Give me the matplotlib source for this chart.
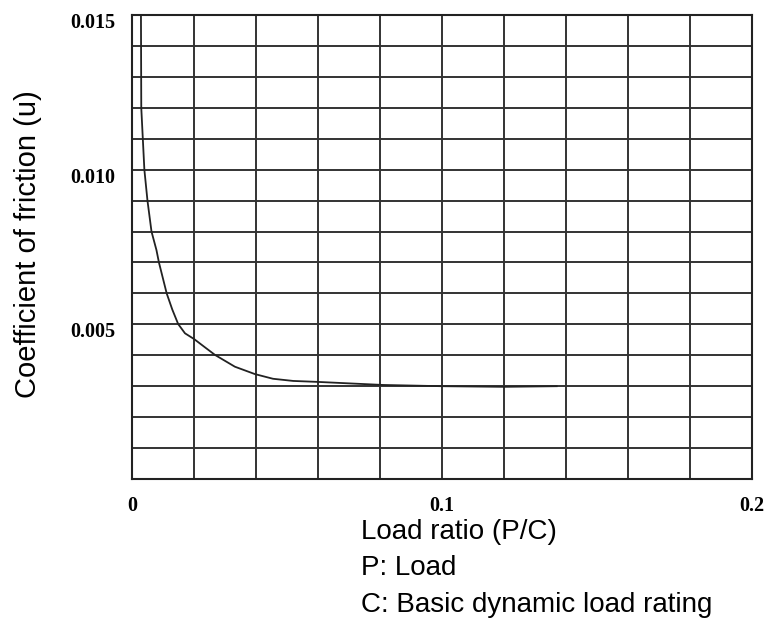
import matplotlib.pyplot as plt
import matplotlib.transforms as mtransforms

# curve (load ratio P/C, coefficient of friction)
load_ratio = [0.0029, 0.0030, 0.0035, 0.0040, 0.0050, 0.0063, 0.0079, 0.0087,
              0.0112, 0.0130, 0.0149, 0.0171, 0.0201, 0.0235, 0.0268, 0.0332,
              0.0397, 0.0455, 0.0520, 0.0597, 0.0703, 0.0810, 0.1000, 0.1200,
              0.1370]
friction = [0.0150, 0.0120, 0.0110, 0.0100, 0.0090, 0.0080, 0.0074, 0.0070,
            0.0060, 0.00548, 0.00501, 0.00471, 0.00452, 0.00426, 0.00401, 0.00363,
            0.00339, 0.00324, 0.00317, 0.00314, 0.00309, 0.00304, 0.00300, 0.00298,
            0.00300]

x_ticks = [0, 0.1, 0.2]
x_ticklabels = ['0', '0.1', '0.2']
y_ticks = [0.005, 0.010, 0.015]
y_ticklabels = ['0.005', '0.010', '0.015']

label_font = ['Liberation Sans', 'DejaVu Sans']
tick_font = {'family': 'Liberation Serif', 'weight': 'bold', 'size': 14.5}

fig = plt.figure(figsize=(7.74, 6.25), dpi=100)
ax = fig.add_axes([0.1705, 0.2336, 0.8011, 0.7424])

# grid lines every 0.02 / 0.001
for i in range(1, 10):
    ax.axvline(i * 0.02, color='#333333', lw=1.4, zorder=1)
for i in range(1, 15):
    ax.axhline(i * 0.001, color='#333333', lw=1.4, zorder=1)

ax.plot(load_ratio, friction, color='#222222', lw=1.3, zorder=2)

ax.set_xlim(0, 0.2)
ax.set_ylim(0, 0.015)
ax.set_xticks(x_ticks)
ax.set_xticklabels(x_ticklabels, fontdict=tick_font)
ax.set_yticks(y_ticks)
ax.set_yticklabels(y_ticklabels, fontdict=tick_font)
ax.tick_params(length=0, pad=12)
# y tick labels sit a little below their grid line in the original
shift = mtransforms.ScaledTranslation(0, -4 / 72, fig.dpi_scale_trans)
for lbl in ax.get_yticklabels():
    lbl.set_transform(lbl.get_transform() + shift)
for s in ax.spines.values():
    s.set_color('#222222')
    s.set_linewidth(1.5)

ax.set_ylabel('Coefficient of friction (u)', family=label_font, fontsize=21)
ax.yaxis.set_label_coords(-0.145, 0.507)

fig.text(361 / 774, 1 - 519 / 625,
         'Load ratio (P/C)\nP: Load\nC: Basic dynamic load rating',
         family=label_font, fontsize=20, ha='left', va='top', linespacing=1.52)

plt.savefig('out.png', dpi=100)
